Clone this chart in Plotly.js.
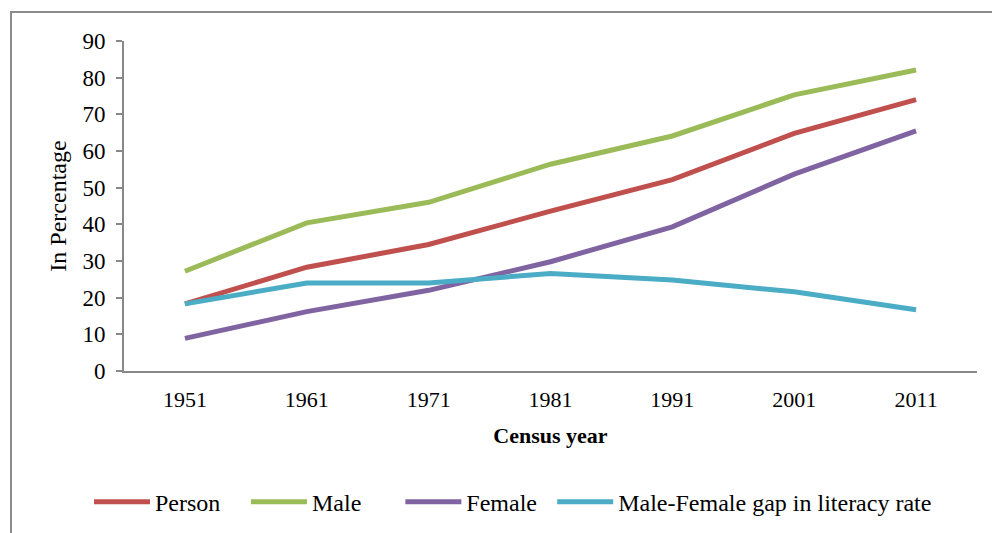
<!DOCTYPE html>
<html>
<head>
<meta charset="utf-8">
<script src="https://cdn.plot.ly/plotly-3.0.1.min.js"></script>
<style>
html,body{margin:0;padding:0;background:#fff;}
#wrap{position:relative;width:992px;height:533px;overflow:hidden;}
#chart{width:992px;height:533px;}
#frame{position:absolute;left:10px;top:11px;width:1000px;height:600px;border:2px solid #8c8c8c;pointer-events:none;}
</style>
</head>
<body>
<div id="wrap">
<div id="chart"></div>
<div id="frame"></div>
</div>
<script>
const years = ['1951','1961','1971','1981','1991','2001','2011'];
const person = [18.3, 28.3, 34.5, 43.6, 52.2, 64.8, 74.0];
const male = [27.2, 40.4, 46.0, 56.4, 64.1, 75.3, 82.1];
const female = [8.9, 16.2, 22.0, 29.8, 39.3, 53.7, 65.5];
const gap = [18.3, 24.0, 24.0, 26.6, 24.8, 21.6, 16.7];
const seriesNames = ['Person', 'Male', 'Female', 'Male-Female gap in literacy rate'];
const colors = ['#C0504D', '#9BBB59', '#8064A2', '#4BACC6'];
const yTicks = [0,10,20,30,40,50,60,70,80,90];

const font = 'Liberation Serif, serif';
const legendIds = ['legend', 'legend2', 'legend3', 'legend4'];
const legendX = [-0.041, 0.143, 0.324, 0.502];

const data = [person, male, female, gap].map((vals, i) => ({
  x: years, y: vals, name: seriesNames[i], type: 'scatter', mode: 'lines',
  legend: legendIds[i],
  line: {color: colors[i], width: 5, shape: 'linear'}
}));

const layout = {
  width: 992, height: 533,
  margin: {l: 124, r: 15, t: 41, b: 162},
  paper_bgcolor: '#fff', plot_bgcolor: '#fff',
  font: {family: font, size: 22, color: '#000'},
  showlegend: true,
  xaxis: {
    type: 'category', range: [-0.5, 6.5],
    showline: true, linecolor: '#888', linewidth: 2,
    ticks: '', showgrid: false, zeroline: false, automargin: false,
    tickfont: {family: font, size: 22, color: '#000'},
    ticklabelstandoff: 8,
    title: {text: '<b>Census year</b>', font: {family: font, size: 22, color: '#000'}, standoff: 16}
  },
  yaxis: {
    range: [0, 90], tickvals: yTicks, ticktext: yTicks.map(String),
    showline: true, linecolor: '#888', linewidth: 2,
    ticks: 'outside', ticklen: 6, tickwidth: 2, tickcolor: '#888',
    showgrid: false, zeroline: false, automargin: 'left',
    tickfont: {family: font, size: 23, color: '#000'},
    ticklabelstandoff: 6,
    title: {text: 'In Percentage', font: {family: font, size: 24, color: '#000'}, standoff: 9}
  }
};
legendIds.forEach((id, i) => {
  layout[id] = {
    orientation: 'h', x: legendX[i], xanchor: 'left',
    yref: 'container', y: 0.058, yanchor: 'middle',
    font: {family: font, size: 24, color: '#000'},
    itemwidth: 56, bgcolor: 'rgba(0,0,0,0)'
  };
});

Plotly.newPlot('chart', data, layout, {displayModeBar: false, staticPlot: true});
</script>
</body>
</html>
